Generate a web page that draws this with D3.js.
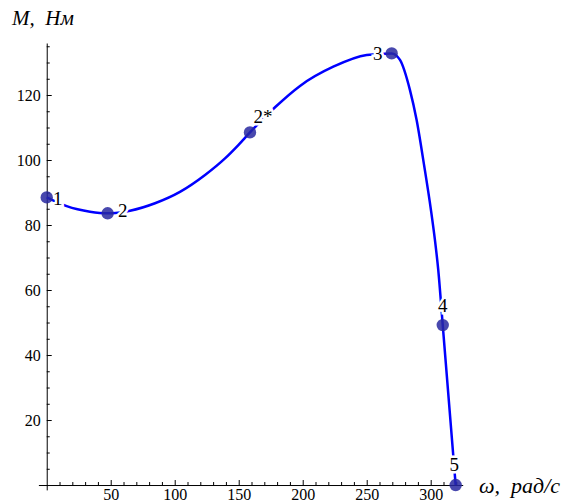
<!DOCTYPE html>
<html>
<head>
<meta charset="utf-8">
<script src="https://cdn.jsdelivr.net/npm/d3@7"></script>
<style>
  body { margin: 0; background: #fff; }
  svg { display: block; }
  svg text { font-family: "Liberation Serif", "Times New Roman", Times, serif; }
</style>
</head>
<body>
<svg id="chart" width="568" height="502"></svg>
<script>
// marked points
var pointLabels = ["1", "2", "2*", "3", "4", "5"];
var pointOmega = [0, 47.6, 158.8, 269.5, 309.4, 319.5];
var pointM = [88.5, 83.6, 108.5, 132.8, 49.2, 0];

// curve
var curveOmega = [0, 15.6, 33.8, 47.6, 65.1, 84.6, 104.1, 123.7, 139.3, 149.7, 158.8, 178.6, 197.9, 223.9, 250, 269.5, 276, 283.8, 289, 294.8, 300.2, 303.3, 305.9, 309.4, 319.5];
var curveM = [88.5, 85.8, 84.1, 83.6, 84.4, 86.7, 90.2, 95.4, 100.5, 104.6, 108.5, 116.3, 122.8, 128.7, 132.3, 132.8, 130.8, 121.5, 112.3, 98.5, 84.6, 75.4, 66.2, 49.2, 0];

// ticks
var xTicks = [50, 100, 150, 200, 250, 300];
var xMinor = [10, 20, 30, 40, 60, 70, 80, 90, 110, 120, 130, 140, 160, 170, 180, 190, 210, 220, 230, 240, 260, 270, 280, 290, 310, 320];
var yTicks = [20, 40, 60, 80, 100, 120];
var yMinor = [5, 10, 15, 25, 30, 35, 45, 50, 55, 65, 70, 75, 85, 90, 95, 105, 110, 115, 125, 130, 135];

var svg = d3.select("#chart");

var x = d3.scaleLinear().domain([-6.5, 325]).range([38.4, 462.7]);
var y = d3.scaleLinear().domain([-1.5, 136]).range([489.9, 43]);

// x axis
svg.append("g").attr("transform", "translate(0," + y(0) + ")")
  .call(d3.axisBottom(x).tickValues(xTicks).tickSizeInner(-5).tickSizeOuter(0).tickPadding(4));
svg.append("g").attr("transform", "translate(0," + y(0) + ")")
  .call(d3.axisBottom(x).tickValues(xMinor).tickSizeInner(-3).tickSizeOuter(0).tickFormat(""))
  .select(".domain").remove();

// y axis
svg.append("g").attr("transform", "translate(" + x(0) + ",0)")
  .call(d3.axisLeft(y).tickValues(yTicks).tickSizeInner(-5).tickSizeOuter(0).tickPadding(6));
svg.append("g").attr("transform", "translate(" + x(0) + ",0)")
  .call(d3.axisLeft(y).tickValues(yMinor).tickSizeInner(-3).tickSizeOuter(0).tickFormat(""))
  .select(".domain").remove();

svg.selectAll("g").attr("font-family", null);
svg.selectAll(".tick text")
  .attr("font-size", 16)
  .attr("fill", "#000");
svg.selectAll(".domain, .tick line").attr("stroke", "#000");

// axis titles
svg.append("text")
  .attr("x", 12).attr("y", 25)
  .attr("font-size", 21).attr("font-style", "italic")
  .attr("xml:space", "preserve")
  .text("M,  Нм");
svg.append("text")
  .attr("x", 479).attr("y", 492.5)
  .attr("font-size", 22).attr("font-style", "italic")
  .attr("xml:space", "preserve")
  .text("ω,  рад/с");

// curve
var curve = curveOmega.map(function (w, i) { return [w, curveM[i]]; });
var line = d3.line()
  .x(function (d) { return x(d[0]); })
  .y(function (d) { return y(d[1]); })
  .curve(d3.curveMonotoneX);

svg.append("path")
  .datum(curve)
  .attr("d", line)
  .attr("fill", "none")
  .attr("stroke", "#0000ff")
  .attr("stroke-width", 2.5);

// labels, with white background
var labelShift = { "1": [11, 8], "2": [15, 4], "2*": [13, -9.5], "3": [-14, 6.5], "4": [0, -13], "5": [-1.5, -14] };

svg.append("g").selectAll("text")
  .data(pointLabels)
  .join("text")
  .attr("x", function (d, i) { return x(pointOmega[i]) + labelShift[d][0]; })
  .attr("y", function (d, i) { return y(pointM[i]) + labelShift[d][1]; })
  .attr("text-anchor", "middle")
  .attr("font-size", 19)
  .attr("fill", "#000")
  .attr("stroke", "#fff")
  .attr("stroke-width", 5)
  .attr("paint-order", "stroke")
  .text(function (d) { return d; });

// points
svg.append("g").selectAll("circle")
  .data(pointOmega)
  .join("circle")
  .attr("cx", function (d) { return x(d); })
  .attr("cy", function (d, i) { return y(pointM[i]); })
  .attr("r", 6.2)
  .attr("fill", "rgb(40,40,160)")
  .attr("fill-opacity", 0.85);
</script>
</body>
</html>
